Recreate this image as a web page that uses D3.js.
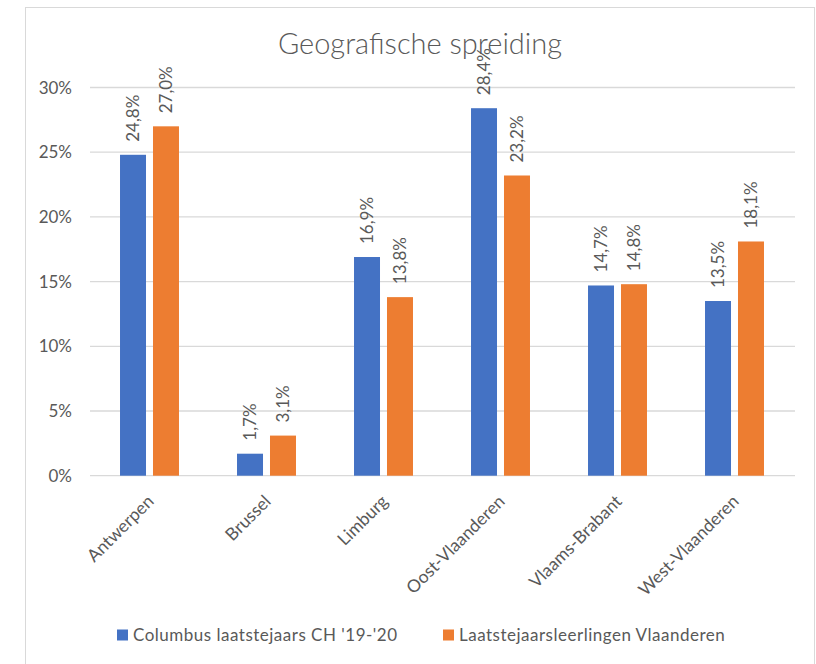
<!DOCTYPE html>
<html>
<head>
<meta charset="utf-8">
<script src="https://cdn.jsdelivr.net/npm/d3@7"></script>
<style>
  body { margin: 0; background: #fff; }
  text { font-family: Lato, "Open Sans", sans-serif; fill: #595959; }
</style>
</head>
<body>
<script>
// data
const categories = ['Antwerpen', 'Brussel', 'Limburg', 'Oost-Vlaanderen', 'Vlaams-Brabant', 'West-Vlaanderen'];
const columbus = [24.8, 1.7, 16.9, 28.4, 14.7, 13.5];
const vlaanderen = [27.0, 3.1, 13.8, 23.2, 14.8, 18.1];
const seriesNames = ["Columbus laatstejaars CH '19-'20", 'Laatstejaarsleerlingen Vlaanderen'];
const yTicks = [0, 5, 10, 15, 20, 25, 30];

let width = 816,
    height = 664;

let plot = { left: 90, right: 795, top: 87.5, bottom: 475.7 };

const colors = ['#4472C4', '#ED7D31'];

let svg = d3.select('body')
            .append('svg')
            .attr('width', width)
            .attr('height', height);

// chart area frame
svg.append('rect')
   .attr('x', 25.5)
   .attr('y', 7.5)
   .attr('width', 789)
   .attr('height', 670)
   .attr('fill', '#fff')
   .attr('stroke', '#D9D9D9');

// title
svg.append('text')
   .attr('x', 420)
   .attr('y', 54)
   .attr('text-anchor', 'middle')
   .style('font-size', '29px')
   .style('font-weight', 300)
   .text('Geografische spreiding');

//scales
let yScale = d3.scaleLinear()
               .domain([0, 30])
               .range([plot.bottom, plot.top]);

let xScale = d3.scaleBand()
               .domain(categories)
               .range([91, 793])
               .paddingInner(0.496)
               .paddingOuter(0.248);

let xSub = d3.scaleBand()
             .domain([0, 1])
             .range([0, xScale.bandwidth()])
             .paddingInner(0.212);

// gridlines + y labels
svg.append('g')
   .selectAll('line')
   .data(yTicks)
   .join('line')
   .attr('x1', plot.left)
   .attr('x2', plot.right)
   .attr('y1', d => yScale(d))
   .attr('y2', d => yScale(d))
   .attr('stroke', '#D9D9D9')
   .attr('stroke-width', 1.3);

svg.append('g')
   .selectAll('text')
   .data(yTicks)
   .join('text')
   .attr('x', 72)
   .attr('y', d => yScale(d))
   .attr('dy', '0.36em')
   .attr('text-anchor', 'end')
   .style('font-size', '17px')
   .text(d => d + '%');

// bars
const rows = categories.map((c, i) => ({ cat: c, vals: [columbus[i], vlaanderen[i]] }));

let groups = svg.selectAll('.cat')
                .data(rows)
                .join('g')
                .attr('class', 'cat')
                .attr('transform', d => `translate(${xScale(d.cat)},0)`);

groups.selectAll('rect')
      .data(d => d.vals.map((v, s) => ({ v, s })))
      .join('rect')
      .attr('x', d => xSub(d.s))
      .attr('width', xSub.bandwidth())
      .attr('y', d => yScale(d.v))
      .attr('height', d => yScale(0) - yScale(d.v))
      .attr('fill', d => colors[d.s]);

// data labels, rotated
groups.selectAll('text.lbl')
      .data(d => d.vals.map((v, s) => ({ v, s })))
      .join('text')
      .attr('class', 'lbl')
      .attr('transform', d => `translate(${xSub(d.s) + xSub.bandwidth() / 2}, ${yScale(d.v) - 13}) rotate(-90)`)
      .attr('dy', '0.36em')
      .attr('text-anchor', 'start')
      .style('font-size', '17px')
      .text(d => d.v.toFixed(1).replace('.', ',') + '%');

// category labels
svg.append('g')
   .selectAll('text')
   .data(categories)
   .join('text')
   .attr('transform', d => `translate(${xScale(d) + xScale.bandwidth() / 2 + 1}, 498) rotate(-45)`)
   .attr('text-anchor', 'end')
   .attr('dy', '0.36em')
   .style('font-size', '17.5px')
   .text(d => d);

// legend
let legend = svg.append('g');
let lx = [117, 443];
seriesNames.forEach((name, i) => {
  let g = legend.append('g')
                .attr('transform', `translate(${lx[i]}, 635)`);
  g.append('rect')
   .attr('x', 0)
   .attr('y', -5.5)
   .attr('width', 11)
   .attr('height', 11)
   .attr('fill', colors[i]);
  g.append('text')
   .attr('x', 16)
   .attr('dy', '0.36em')
   .style('font-size', '17px')
   .style('letter-spacing', '0.5px')
   .text(name);
});
</script>
</body>
</html>
